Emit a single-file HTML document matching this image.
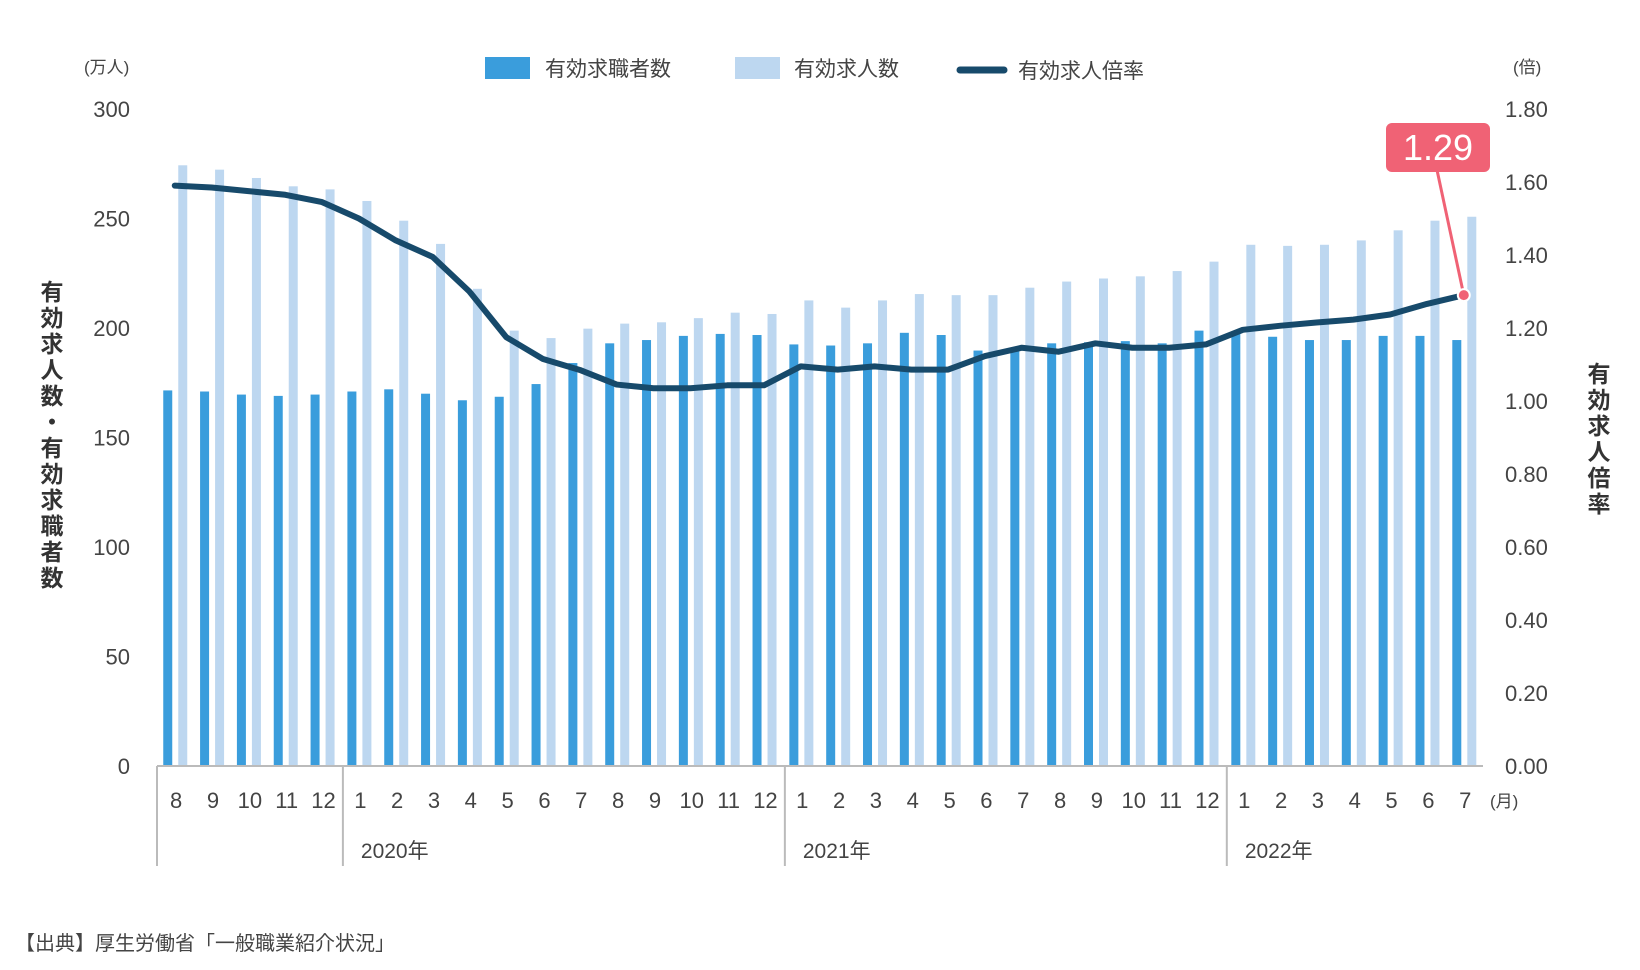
<!DOCTYPE html>
<html><head><meta charset="utf-8">
<style>
html,body{margin:0;padding:0;background:#fff;}
svg{display:block;font-family:"Liberation Sans","Noto Sans CJK JP",sans-serif;}
</style></head>
<body>
<svg id="chart" width="1640" height="970" viewBox="0 0 1640 970" xmlns="http://www.w3.org/2000/svg">
  <g id="legend">
    <rect x="485" y="57" width="45" height="22" fill="#3a9ddc"/>
    <text x="545" y="76" font-size="21" fill="#444">有効求職者数</text>
    <rect x="735" y="57" width="45" height="22" fill="#bdd7f0"/>
    <text x="794" y="76" font-size="21" fill="#444">有効求人数</text>
    <line x1="960" y1="70" x2="1004" y2="70" stroke="#174a6b" stroke-width="7" stroke-linecap="round"/>
    <text x="1018" y="78" font-size="21" fill="#444">有効求人倍率</text>
  </g>
  <text x="84" y="73" font-size="17" fill="#444">(万人)</text>
  <text x="1513" y="73" font-size="17" fill="#444">(倍)</text>
  <text x="50" y="280" font-size="23" font-weight="bold" fill="#333" writing-mode="tb" letter-spacing="3">有効求人数・有効求職者数</text>
  <text x="1597" y="362" font-size="23" font-weight="bold" fill="#333" writing-mode="tb" letter-spacing="3">有効求人倍率</text>
  <g id="bars"></g>
  <g id="axes"></g>
  <g id="line"></g>
  <text x="15" y="950" font-size="20" fill="#444">【出典】厚生労働省「一般職業紹介状況」</text>
</svg>
<script>
const months = ["8","9","10","11","12","1","2","3","4","5","6","7","8","9","10","11","12","1","2","3","4","5","6","7","8","9","10","11","12","1","2","3","4","5","6","7"];
const years = ["2020年","2021年","2022年"];
const yearStartIdx = [5,17,29];
const seekers = [171.5,171,169.6,169,169.6,171,172,170,167,168.6,174.4,184,193,194.5,196.4,197.3,196.8,192.5,192,193,197.8,196.8,189.7,190,193,193.5,194,193,198.8,198.3,196,194.5,194.5,196.4,196.4,194.5];
const openings = [274.3,272.3,268.5,264.7,263.3,258,249,238.4,217.9,198.8,195.4,199.7,202,202.6,204.5,207,206.4,212.6,209.3,212.6,215.5,215,215,218.4,221.2,222.6,223.6,226,230.3,238,237.5,238,240,244.6,249,250.8];
const ratio = [1.59,1.585,1.575,1.565,1.545,1.50,1.44,1.395,1.30,1.175,1.115,1.085,1.045,1.035,1.035,1.043,1.043,1.095,1.086,1.095,1.086,1.086,1.123,1.146,1.135,1.158,1.146,1.146,1.155,1.195,1.206,1.215,1.223,1.237,1.266,1.29];
const leftTicks = [0,50,100,150,200,250,300];
const rightTicks = ["0.00","0.20","0.40","0.60","0.80","1.00","1.20","1.40","1.60","1.80"];

const NS="http://www.w3.org/2000/svg";
const basePx=766, yTopPx=109, x0=159.75, slot=36.83;
const yL=v=>basePx-(v/300)*(basePx-yTopPx);
const yR=v=>basePx-(v/1.8)*(basePx-yTopPx);
const xs=i=>x0+i*slot;
function mk(tag,attrs,parent){const e=document.createElementNS(NS,tag);for(const k in attrs)e.setAttribute(k,attrs[k]);parent.appendChild(e);return e;}
const barsG=document.getElementById('bars'), axesG=document.getElementById('axes'), lineG=document.getElementById('line');

seekers.forEach((v,i)=>{
  const r=mk('rect',{x:xs(i)+3.5,y:yL(v),width:9,height:basePx-yL(v),fill:'#3a9ddc'},barsG);
  
  
});
openings.forEach((v,i)=>{
  const r=mk('rect',{x:xs(i)+18.5,y:yL(v),width:9,height:basePx-yL(v),fill:'#bdd7f0'},barsG);
  
  
});
leftTicks.forEach(v=>{
  const t=mk('text',{x:130,y:yL(v)+8,'font-size':22,fill:'#444','text-anchor':'end'},axesG);
  t.textContent=v;
  
  
});
rightTicks.forEach(s=>{
  const t=mk('text',{x:1505,y:yR(parseFloat(s))+8,'font-size':22,fill:'#444'},axesG);
  t.textContent=s;
  
  
});
const ax=mk('line',{x1:157,y1:basePx,x2:1483,y2:basePx,stroke:'#bbb','stroke-width':2},axesG);


[0].concat(yearStartIdx).forEach(i=>{
  const x=i===0?157:xs(i)-1;
  const d=mk('line',{x1:x,y1:basePx,x2:x,y2:866,stroke:'#bbb','stroke-width':2},axesG);
  
  
});
months.forEach((m,i)=>{
  const t=mk('text',{x:xs(i)+slot/2-2,y:808,'font-size':22,fill:'#444','text-anchor':'middle'},axesG);
  t.textContent=m;
  
  
});
const mu=mk('text',{x:1490,y:807,'font-size':17,fill:'#444'},axesG);
mu.textContent='(月)';


years.forEach((y,k)=>{
  const t=mk('text',{x:xs(yearStartIdx[k])+17,y:858,'font-size':21,fill:'#444'},axesG);
  t.textContent=y;
  
  
});
const pts=ratio.map((v,i)=>(xs(i)+15)+','+yR(v)).join(' ');
const pl=mk('polyline',{points:pts,fill:'none',stroke:'#174a6b','stroke-width':6,'stroke-linejoin':'round','stroke-linecap':'round'},lineG);


const li=ratio.length-1, lx=xs(li)+15, ly=yR(ratio[li]);
const cl=mk('line',{x1:1437,y1:170,x2:lx,y2:ly,stroke:'#f06275','stroke-width':3},lineG);


const dot=mk('circle',{cx:lx,cy:ly,r:6,fill:'#f06275',stroke:'#fff','stroke-width':2},lineG);


const box=mk('rect',{x:1386,y:123,width:104,height:49,rx:6,fill:'#f06275'},lineG);


const bt=mk('text',{x:1438,y:160,'font-size':36,fill:'#fff','text-anchor':'middle'},lineG);
bt.textContent=ratio[li].toFixed(2);


</script>
</body></html>
